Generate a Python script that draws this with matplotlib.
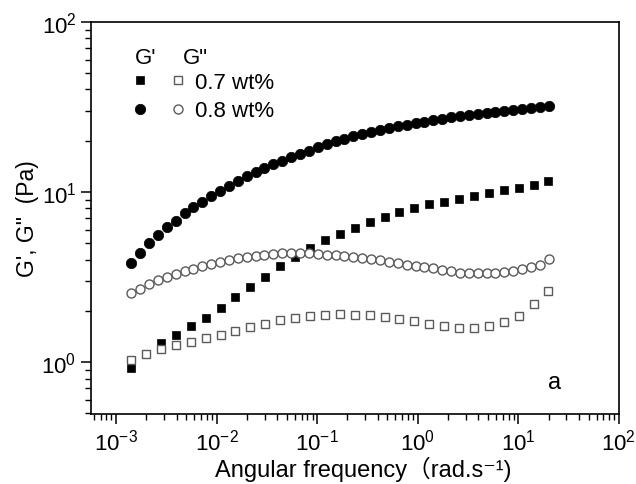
import matplotlib
matplotlib.use("Agg")
import matplotlib.pyplot as plt
from matplotlib.legend_handler import HandlerTuple

plt.rcParams["font.family"] = ["Liberation Sans", "DejaVu Sans", "Noto Sans CJK SC"]
plt.rcParams["mathtext.fontset"] = "custom"
plt.rcParams["mathtext.rm"] = "Liberation Sans"
plt.rcParams["mathtext.it"] = "Liberation Sans:italic"
plt.rcParams["mathtext.bf"] = "Liberation Sans:bold"

# ── Data ──────────────────────────────────────────────────────────────────────

# 0.7 wt% sample: 29 frequencies
freq_07 = [0.001413, 0.001987, 0.002793, 0.003933, 0.005534, 0.007787, 0.01094,
           0.01538, 0.02167, 0.03048, 0.04285, 0.06026, 0.08492, 0.1194, 0.1679,
           0.2360, 0.3319, 0.4677, 0.6577, 0.9247, 1.300, 1.828, 2.576, 3.622,
           5.093, 7.161, 10.07, 14.19, 19.95]
g1_07 = [0.92, 1.11, 1.29, 1.45, 1.62, 1.82, 2.07, 2.40, 2.76, 3.16, 3.65, 4.15,
         4.69, 5.20, 5.69, 6.17, 6.67, 7.14, 7.64, 8.00, 8.44, 8.75, 9.07, 9.45,
         9.88, 10.25, 10.58, 10.97, 11.6]
g2_07 = [1.03, 1.11, 1.20, 1.26, 1.31, 1.39, 1.44, 1.52, 1.60, 1.68, 1.76, 1.81,
         1.86, 1.89, 1.91, 1.90, 1.88, 1.84, 1.79, 1.74, 1.68, 1.64, 1.59, 1.59,
         1.64, 1.71, 1.86, 2.19, 2.61]

# 0.8 wt% sample: 48 frequencies
freq_08 = [0.001413, 0.001732, 0.002123, 0.002602, 0.003189, 0.003909, 0.004791,
           0.005872, 0.007197, 0.008821, 0.01081, 0.01325, 0.01624, 0.01991,
           0.02440, 0.02991, 0.03665, 0.04493, 0.05507, 0.06749, 0.08272, 0.1014,
           0.1243, 0.1523, 0.1867, 0.2288, 0.2805, 0.3438, 0.4213, 0.5164, 0.6329,
           0.7757, 0.9508, 1.165, 1.428, 1.750, 2.145, 2.630, 3.223, 3.950, 4.842,
           5.934, 7.273, 8.914, 10.93, 13.39, 16.41, 20.11]
g1_08 = [3.84, 4.40, 5.01, 5.61, 6.23, 6.79, 7.47, 8.10, 8.75, 9.44, 10.17, 10.88,
         11.65, 12.4, 13.15, 13.9, 14.6, 15.3, 16.0, 16.8, 17.5, 18.3, 19.1, 19.8,
         20.5, 21.2, 21.8, 22.5, 23.2, 23.7, 24.3, 24.8, 25.4, 25.9, 26.4, 26.9,
         27.4, 27.8, 28.3, 28.6, 29.0, 29.6, 30.0, 30.4, 30.8, 31.1, 31.5, 31.9]
g2_08 = [2.55, 2.70, 2.86, 3.02, 3.16, 3.31, 3.43, 3.54, 3.67, 3.77, 3.85, 3.98,
         4.07, 4.15, 4.22, 4.28, 4.32, 4.35, 4.38, 4.40, 4.37, 4.34, 4.28, 4.24,
         4.18, 4.15, 4.09, 4.01, 3.96, 3.89, 3.82, 3.74, 3.67, 3.62, 3.57, 3.49,
         3.42, 3.35, 3.33, 3.33, 3.33, 3.35, 3.37, 3.42, 3.51, 3.60, 3.72, 4.01]

labels = ["0.7 wt%", "0.8 wt%"]

OPEN_EDGE = "#5a5a5a"

# ── Plot ──────────────────────────────────────────────────────────────────────

fig = plt.figure(figsize=(6.36, 4.85), dpi=100)
ax = fig.add_axes([0.143, 0.144, 0.830, 0.809])

sq_f, = ax.plot(freq_07, g1_07, ls="none", marker="s", ms=6, mfc="black",
                mec="black", mew=0.5)
sq_o, = ax.plot(freq_07, g2_07, ls="none", marker="s", ms=5.5, mfc="white",
                mec=OPEN_EDGE, mew=1.0)
ci_f, = ax.plot(freq_08, g1_08, ls="none", marker="o", ms=7.5, mfc="black",
                mec="black", mew=0.5)
ci_o, = ax.plot(freq_08, g2_08, ls="none", marker="o", ms=6.5, mfc="white",
                mec=OPEN_EDGE, mew=1.0)

ax.set_xscale("log")
ax.set_yscale("log")
ax.set_xlim(10 ** -3.25, 100)
ax.set_ylim(0.494, 100)

ax.set_xlabel("Angular frequency\uff08rad.s\u207b\u00b9)", fontsize=17)
ax.xaxis.set_label_coords(0.515, -0.105)
ax.set_ylabel("G', G\"  (Pa)", fontsize=16.5, labelpad=2)

ax.tick_params(which="major", direction="out", length=7, width=1.1,
               labelsize=16, top=False, right=False)
ax.tick_params(which="minor", direction="out", length=4, width=1.0,
               top=False, right=False)
for s in ax.spines.values():
    s.set_linewidth(1.2)

# Legend: header text + tuple handles
ax.text(0.083, 0.91, "G'", transform=ax.transAxes, fontsize=16,
        ha="left", va="center")
ax.text(0.175, 0.91, "G\"", transform=ax.transAxes, fontsize=16,
        ha="left", va="center")
ax.legend([(sq_f, sq_o), (ci_f, ci_o)], labels,
          handler_map={tuple: HandlerTuple(ndivide=None, pad=1.0)},
          loc="upper left", bbox_to_anchor=(0.078, 0.872), frameon=False,
          fontsize=16, handlelength=2.4, handletextpad=0.44, borderpad=0,
          labelspacing=0.33, borderaxespad=0)

ax.text(0.879, 0.082, "a", transform=ax.transAxes, fontsize=17,
        ha="center", va="center")

fig.savefig("out.png", dpi=100)
